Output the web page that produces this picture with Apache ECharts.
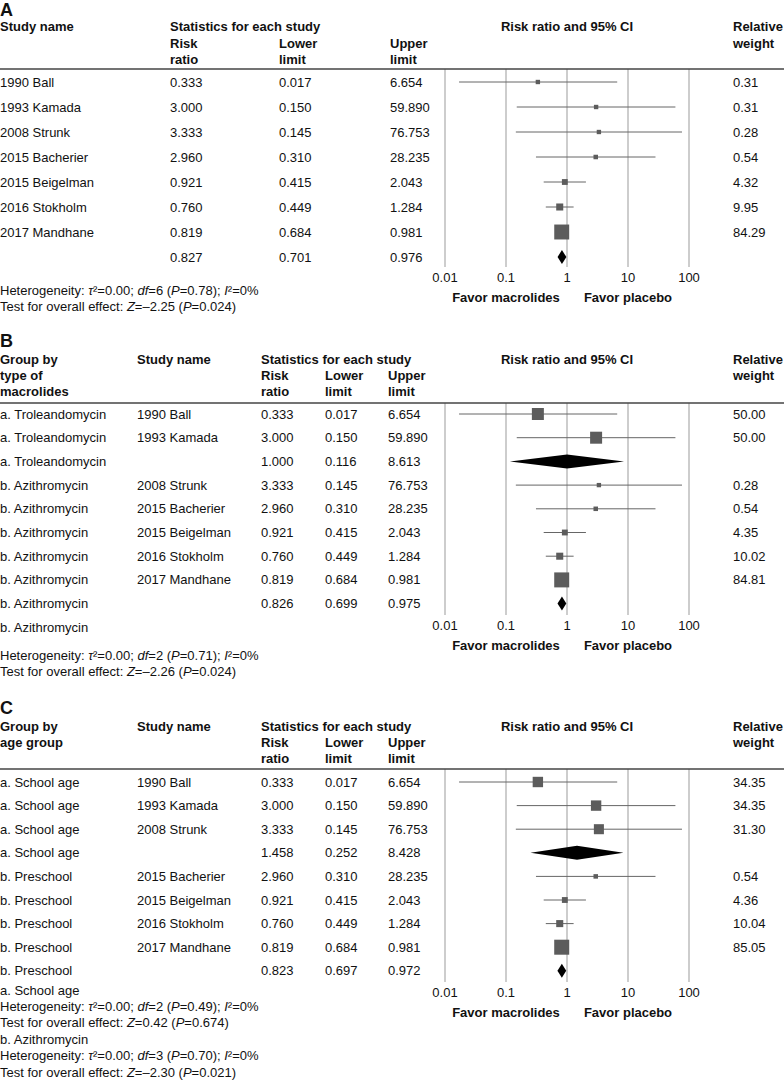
<!DOCTYPE html>
<html><head><meta charset="utf-8">
<script src="https://cdn.jsdelivr.net/npm/echarts@6/dist/echarts.min.js"></script>
<style>html,body{margin:0;padding:0;background:#fff}#chart{width:784px;height:1087px}</style>
</head><body><div id="chart"></div>
<script>
// ---------- DATA ----------
const tickValues = [0.01, 0.1, 1, 10, 100];
const tickLabels = ['0.01', '0.1', '1', '10', '100'];
const favorLabels = ['Favor macrolides', 'Favor placebo'];

// Panel A
const studiesA = ['1990 Ball', '1993 Kamada', '2008 Strunk', '2015 Bacherier', '2015 Beigelman', '2016 Stokholm', '2017 Mandhane', ''];
const rrA      = [0.333, 3.000, 3.333, 2.960, 0.921, 0.760, 0.819, 0.827];
const lowerA   = [0.017, 0.150, 0.145, 0.310, 0.415, 0.449, 0.684, 0.701];
const upperA   = [6.654, 59.890, 76.753, 28.235, 2.043, 1.284, 0.981, 0.976];
const weightA  = [0.31, 0.31, 0.28, 0.54, 4.32, 9.95, 84.29, null];
const kindA    = ['study', 'study', 'study', 'study', 'study', 'study', 'study', 'pooled'];
const notesA = [
  'Heterogeneity: {i|τ}²=0.00; {i|df}=6 ({i|P}=0.78); {i|I}²=0%',
  'Test for overall effect: {i|Z}=–2.25 ({i|P}=0.024)'
];

// Panel B
const groupsB  = ['a. Troleandomycin', 'a. Troleandomycin', 'a. Troleandomycin', 'b. Azithromycin', 'b. Azithromycin', 'b. Azithromycin', 'b. Azithromycin', 'b. Azithromycin', 'b. Azithromycin', 'b. Azithromycin'];
const studiesB = ['1990 Ball', '1993 Kamada', '', '2008 Strunk', '2015 Bacherier', '2015 Beigelman', '2016 Stokholm', '2017 Mandhane', '', ''];
const rrB      = [0.333, 3.000, 1.000, 3.333, 2.960, 0.921, 0.760, 0.819, 0.826, null];
const lowerB   = [0.017, 0.150, 0.116, 0.145, 0.310, 0.415, 0.449, 0.684, 0.699, null];
const upperB   = [6.654, 59.890, 8.613, 76.753, 28.235, 2.043, 1.284, 0.981, 0.975, null];
const weightB  = [50.00, 50.00, null, 0.28, 0.54, 4.35, 10.02, 84.81, null, null];
const kindB    = ['study', 'study', 'pooled', 'study', 'study', 'study', 'study', 'study', 'pooled', 'label'];
const notesB = [
  'Heterogeneity: {i|τ}²=0.00; {i|df}=2 ({i|P}=0.71); {i|I}²=0%',
  'Test for overall effect: {i|Z}=–2.26 ({i|P}=0.024)'
];

// Panel C
const groupsC  = ['a. School age', 'a. School age', 'a. School age', 'a. School age', 'b. Preschool', 'b. Preschool', 'b. Preschool', 'b. Preschool', 'b. Preschool'];
const studiesC = ['1990 Ball', '1993 Kamada', '2008 Strunk', '', '2015 Bacherier', '2015 Beigelman', '2016 Stokholm', '2017 Mandhane', ''];
const rrC      = [0.333, 3.000, 3.333, 1.458, 2.960, 0.921, 0.760, 0.819, 0.823];
const lowerC   = [0.017, 0.150, 0.145, 0.252, 0.310, 0.415, 0.449, 0.684, 0.697];
const upperC   = [6.654, 59.890, 76.753, 8.428, 28.235, 2.043, 1.284, 0.981, 0.972];
const weightC  = [34.35, 34.35, 31.30, null, 0.54, 4.36, 10.04, 85.05, null];
const kindC    = ['study', 'study', 'study', 'pooled', 'study', 'study', 'study', 'study', 'pooled'];
const notesC = [
  'a. School age',
  'Heterogeneity: {i|τ}²=0.00; {i|df}=2 ({i|P}=0.49); {i|I}²=0%',
  'Test for overall effect: {i|Z}=0.42 ({i|P}=0.674)',
  'b. Azithromycin',
  'Heterogeneity: {i|τ}²=0.00; {i|df}=3 ({i|P}=0.70); {i|I}²=0%',
  'Test for overall effect: {i|Z}=–2.30 ({i|P}=0.021)'
];

// ---------- LAYOUT ----------
const FONT = '"Liberation Sans", Arial, Helvetica, sans-serif';
const TXT = '#111';
const panels = [
  { label: 'A', labelY: 10, headY: [26, 43, 59], lineY: 69, gridBottom: 267, row0: 82, step: 25,
    groups: null, studies: studiesA, rr: rrA, lo: lowerA, up: upperA, w: weightA, kind: kindA,
    colX: { study: 0, rr: 170, lo: 279, up: 390, w: 733 },
    head: [[0, 0, 'Study name'], [170, 0, 'Statistics for each study'], [170, 1, 'Risk'], [170, 2, 'ratio'],
           [279, 1, 'Lower'], [279, 2, 'limit'], [390, 1, 'Upper'], [390, 2, 'limit'],
           [733, 0, 'Relative'], [733, 1, 'weight']],
    notes: notesA, notesY0: 290, notesStep: 16.5 },
  { label: 'B', labelY: 341, headY: [359, 375, 391], lineY: 403, gridBottom: 615, row0: 414, step: 23.7,
    groups: groupsB, studies: studiesB, rr: rrB, lo: lowerB, up: upperB, w: weightB, kind: kindB,
    colX: { group: 0, study: 137, rr: 261, lo: 325, up: 388, w: 733 },
    head: [[0, 0, 'Group by'], [0, 1, 'type of'], [0, 2, 'macrolides'], [137, 0, 'Study name'],
           [261, 0, 'Statistics for each study'], [261, 1, 'Risk'], [261, 2, 'ratio'],
           [325, 1, 'Lower'], [325, 2, 'limit'], [388, 1, 'Upper'], [388, 2, 'limit'],
           [733, 0, 'Relative'], [733, 1, 'weight']],
    notes: notesB, notesY0: 655, notesStep: 16.5 },
  { label: 'C', labelY: 708, headY: [726, 742, 758], lineY: 769, gridBottom: 982, row0: 782, step: 23.6,
    groups: groupsC, studies: studiesC, rr: rrC, lo: lowerC, up: upperC, w: weightC, kind: kindC,
    colX: { group: 0, study: 137, rr: 261, lo: 325, up: 388, w: 733 },
    head: [[0, 0, 'Group by'], [0, 1, 'age group'], [137, 0, 'Study name'],
           [261, 0, 'Statistics for each study'], [261, 1, 'Risk'], [261, 2, 'ratio'],
           [325, 1, 'Lower'], [325, 2, 'limit'], [388, 1, 'Upper'], [388, 2, 'limit'],
           [733, 0, 'Relative'], [733, 1, 'weight']],
    notes: notesC, notesY0: 990, notesStep: 16.4 }
];

const chart = echarts.init(document.getElementById('chart'), null, { renderer: 'svg' });

function renderItem(params, api) {
  const y = api.value(3);
  const c = api.coord([api.value(0), y]);
  const l = api.coord([api.value(1), y]);
  const h = api.coord([api.value(2), y]);
  if (api.value(5) === 1) {
    const hh = 7;
    return { type: 'polygon', shape: { points: [[l[0], c[1]], [c[0], c[1] - hh], [h[0], c[1]], [c[0], c[1] + hh]] },
             style: { fill: '#000' } };
  }
  const s = 4 + 11 * Math.pow(api.value(4) / 85, 0.6);
  return { type: 'group', children: [
    { type: 'line', shape: { x1: l[0], y1: c[1], x2: h[0], y2: c[1] }, style: { stroke: '#666', lineWidth: 1 } },
    { type: 'rect', shape: { x: c[0] - s / 2, y: c[1] - s / 2, width: s, height: s }, style: { fill: '#5c5c5c' } }
  ] };
}

function tickFmt(v) {
  const k = tickValues.findIndex(t => Math.abs(Math.log10(t) - Math.log10(v)) < 1e-6);
  return k >= 0 ? tickLabels[k] : '';
}

chart.setOption({
  animation: false,
  grid: panels.map(p => ({ left: 445, width: 244, top: p.lineY, height: p.gridBottom - p.lineY })),
  xAxis: panels.map((p, k) => ({
    type: 'log', logBase: 10, gridIndex: k, min: 0.01, max: 100,
    axisLine: { show: false }, axisTick: { show: false },
    splitLine: { show: true, showMinLine: true, showMaxLine: true, lineStyle: { color: '#bdbdbd', width: 1.5 } },
    axisLabel: { margin: 4, fontSize: 13, fontFamily: FONT, color: TXT, formatter: tickFmt }
  })),
  yAxis: panels.map((p, k) => ({
    type: 'value', gridIndex: k, inverse: true, show: false,
    min: (p.lineY - p.row0) / p.step, max: (p.gridBottom - p.row0) / p.step
  })),
  series: panels.map((p, k) => ({
    type: 'custom', xAxisIndex: k, yAxisIndex: k, silent: true, clip: false,
    renderItem: renderItem,
    encode: { x: [0, 1, 2], y: 3 },
    data: p.rr.map((v, i) => v == null ? null : [v, p.lo[i], p.up[i], i, p.w[i] || 0, p.kind[i] === 'pooled' ? 1 : 0])
               .filter(d => d)
  }))
});

// ---------- TEXT (graphic) ----------
function text(x, y, str, opt) {
  opt = opt || {};
  const style = {
    text: str, x: x, y: y, fill: TXT,
    font: (opt.bold ? 'bold ' : '') + (opt.size || 13) + 'px ' + FONT,
    textAlign: opt.align || 'left', textVerticalAlign: 'middle'
  };
  if (opt.rich) style.rich = { i: { fontStyle: 'italic', fontSize: 13, fontFamily: FONT, fill: TXT } };
  return { type: 'text', silent: true, style: style };
}

const g = [];
panels.forEach((p, k) => {
  const xp = v => chart.convertToPixel({ xAxisIndex: k }, v);
  g.push(text(0, p.labelY, p.label, { bold: true, size: 18 }));
  p.head.forEach(hc => g.push(text(hc[0], p.headY[hc[1]], hc[2], { bold: true })));
  g.push(text(xp(1), p.headY[0], 'Risk ratio and 95% CI', { bold: true, align: 'center' }));
  g.push({ type: 'line', silent: true, shape: { x1: 0, y1: p.lineY, x2: 784, y2: p.lineY },
           style: { stroke: '#444', lineWidth: 1.5 } });
  p.studies.forEach((name, i) => {
    const y = p.row0 + p.step * i;
    if (p.groups) g.push(text(p.colX.group, y, p.groups[i]));
    if (name) g.push(text(p.colX.study, y, name));
    if (p.rr[i] != null) {
      g.push(text(p.colX.rr, y, p.rr[i].toFixed(3)));
      g.push(text(p.colX.lo, y, p.lo[i].toFixed(3)));
      g.push(text(p.colX.up, y, p.up[i].toFixed(3)));
    }
    if (p.w[i] != null) g.push(text(p.colX.w, y, p.w[i].toFixed(2)));
  });
  const favY = p.gridBottom + 30;
  g.push(text(xp(0.1), favY, favorLabels[0], { bold: true, align: 'center' }));
  g.push(text(xp(10), favY, favorLabels[1], { bold: true, align: 'center' }));
  p.notes.forEach((n, j) => g.push(text(0, p.notesY0 + p.notesStep * j, n, { rich: true })));
});
chart.setOption({ graphic: g });
</script></body></html>
